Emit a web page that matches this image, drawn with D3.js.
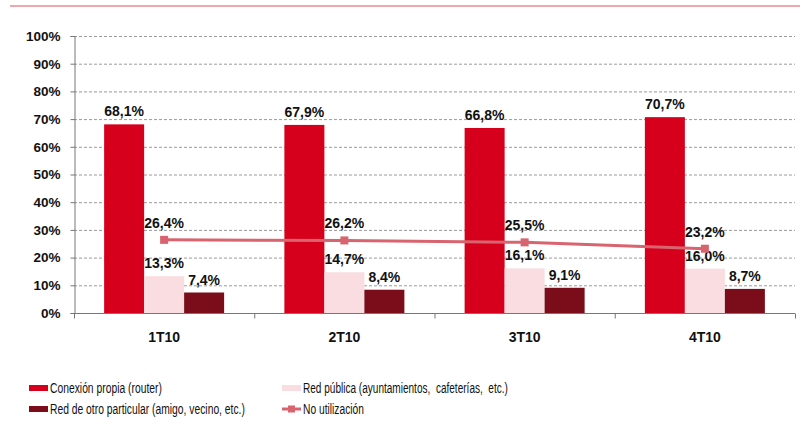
<!DOCTYPE html>
<html><head><meta charset="utf-8">
<script src="https://cdn.jsdelivr.net/npm/d3@7"></script>
<style>
body{margin:0;background:#fff;}
svg{display:block;font-family:"Liberation Sans",Arial,sans-serif;}
</style></head>
<body><svg id="c" width="800" height="423"></svg>
<script>
const categories = ["1T10","2T10","3T10","4T10"];
const conexionPropia = [68.1, 67.9, 66.8, 70.7];
const redPublica = [13.3, 14.7, 16.1, 16.0];
const redOtro = [7.4, 8.4, 9.1, 8.7];
const noUtilizacion = [26.4, 26.2, 25.5, 23.2];
const yTicks = [0,10,20,30,40,50,60,70,80,90,100];
const seriesNames = ["Conexión propia (router)","Red pública (ayuntamientos,  cafeterías,  etc.)","Red de otro particular (amigo, vecino, etc.)","No utilización"];

const colors = {red:"#D6001C", pink:"#F9DDE1", dark:"#7A0D19", line:"#D8646F", rule:"#E88A90"};
const fmt = v => d3.format(".1f")(v).replace(".", ",") + "%";

const svg = d3.select("#c");
const L = 74, R = 795, T = 36, B = 313;

svg.append("line").attr("x1",10).attr("x2",800).attr("y1",6).attr("y2",6)
  .attr("stroke",colors.rule).attr("stroke-width",1.5);

const x = d3.scaleBand().domain(categories).range([L,R]);
const y = d3.scaleLinear().domain([0,100]).range([B,T]);
const barW = 40;
const sub = d3.scaleBand().domain(["red","pink","dark"]).range([-60,60]);

// grid
svg.append("g").selectAll("line").data(yTicks.filter(d=>d>0)).join("line")
  .attr("x1",L).attr("x2",R).attr("y1",d=>y(d)+0.5).attr("y2",d=>y(d)+0.5)
  .attr("stroke","#9a9a9a").attr("stroke-width",1).attr("stroke-dasharray","3,2");

// y axis
const ya = svg.append("g").attr("transform",`translate(${L+0.5},0)`)
  .call(d3.axisLeft(y).tickValues(yTicks).tickFormat(d=>d+"%").tickSize(4).tickPadding(10));
ya.select(".domain").attr("stroke","#777");
ya.selectAll(".tick line").attr("stroke","#777");
ya.selectAll("text").attr("font-size","13.5px").attr("font-weight","bold").attr("fill","#111").attr("font-family","'Liberation Sans',Arial,sans-serif");

// x axis
const xa = svg.append("g").attr("transform",`translate(0,${B+0.5})`)
  .call(d3.axisBottom(x).tickSize(0).tickPadding(19));
xa.select(".domain").attr("stroke","#777").attr("d",`M${L},0H${R}`);
xa.selectAll("text").attr("font-size","14px").attr("font-weight","bold").attr("fill","#111").attr("font-family","'Liberation Sans',Arial,sans-serif");
xa.append("g").selectAll("line").data(d3.range(categories.length+1)).join("line")
  .attr("x1",i=>L+i*x.step()+0.5).attr("x2",i=>L+i*x.step()+0.5).attr("y1",0).attr("y2",5).attr("stroke","#777");

const bars = [
  {key:"red", data:conexionPropia, color:colors.red},
  {key:"pink", data:redPublica, color:colors.pink},
  {key:"dark", data:redOtro, color:colors.dark}
];
const cx = c => x(c) + x.bandwidth()/2;
bars.forEach(s=>{
  const g = svg.append("g");
  g.selectAll("rect").data(categories).join("rect")
    .attr("x",(c)=>cx(c)+sub(s.key)).attr("width",barW)
    .attr("y",(c,i)=>y(s.data[i])).attr("height",(c,i)=>B-y(s.data[i]))
    .attr("fill",s.color);
  g.selectAll("text").data(categories).join("text")
    .attr("x",c=>cx(c)+sub(s.key)+barW/2).attr("y",(c,i)=>y(s.data[i])-8)
    .attr("text-anchor","middle").attr("font-size","14px").attr("font-weight","bold").attr("fill","#111")
    .text((c,i)=>fmt(s.data[i]));
});

// line
const lineGen = d3.line().x((d,i)=>cx(categories[i])).y(d=>y(d));
svg.append("path").datum(noUtilizacion).attr("d",lineGen).attr("fill","none")
  .attr("stroke",colors.line).attr("stroke-width",3);
svg.append("g").selectAll("rect").data(noUtilizacion).join("rect")
  .attr("x",(d,i)=>cx(categories[i])-4).attr("y",d=>y(d)-4).attr("width",8).attr("height",8)
  .attr("fill",colors.line);
svg.append("g").selectAll("text").data(noUtilizacion).join("text")
  .attr("x",(d,i)=>cx(categories[i])).attr("y",d=>y(d)-12)
  .attr("text-anchor","middle").attr("font-size","14px").attr("font-weight","bold").attr("fill","#111")
  .text(d=>fmt(d));

// legend
const leg = [
  {name:seriesNames[0], color:colors.red, type:"bar", x:29, y:388, w:112},
  {name:seriesNames[1], color:colors.pink, type:"bar", x:282, y:388, w:205},
  {name:seriesNames[2], color:colors.dark, type:"bar", x:29, y:409, w:195},
  {name:seriesNames[3], color:colors.line, type:"line", x:282, y:409, w:61}
];
leg.forEach(l=>{
  const g = svg.append("g");
  if(l.type==="bar"){
    g.append("rect").attr("x",l.x).attr("y",l.y-3).attr("width",19).attr("height",6).attr("fill",l.color);
  } else {
    g.append("line").attr("x1",l.x).attr("x2",l.x+19).attr("y1",l.y).attr("y2",l.y).attr("stroke",l.color).attr("stroke-width",3);
    g.append("rect").attr("x",l.x+6).attr("y",l.y-3.5).attr("width",7).attr("height",7).attr("fill",l.color);
  }
  const t = g.append("text").attr("x",0).attr("y",0).attr("font-size","14.5px")
    .attr("fill","#111")
    .attr("xml:space","preserve").style("white-space","pre").text(l.name);
  const nat = t.node().getComputedTextLength();
  const sx = l.w / nat;
  t.attr("transform",`translate(${l.x+21},${l.y+5}) scale(${sx},1)`);
});
</script></body></html>
